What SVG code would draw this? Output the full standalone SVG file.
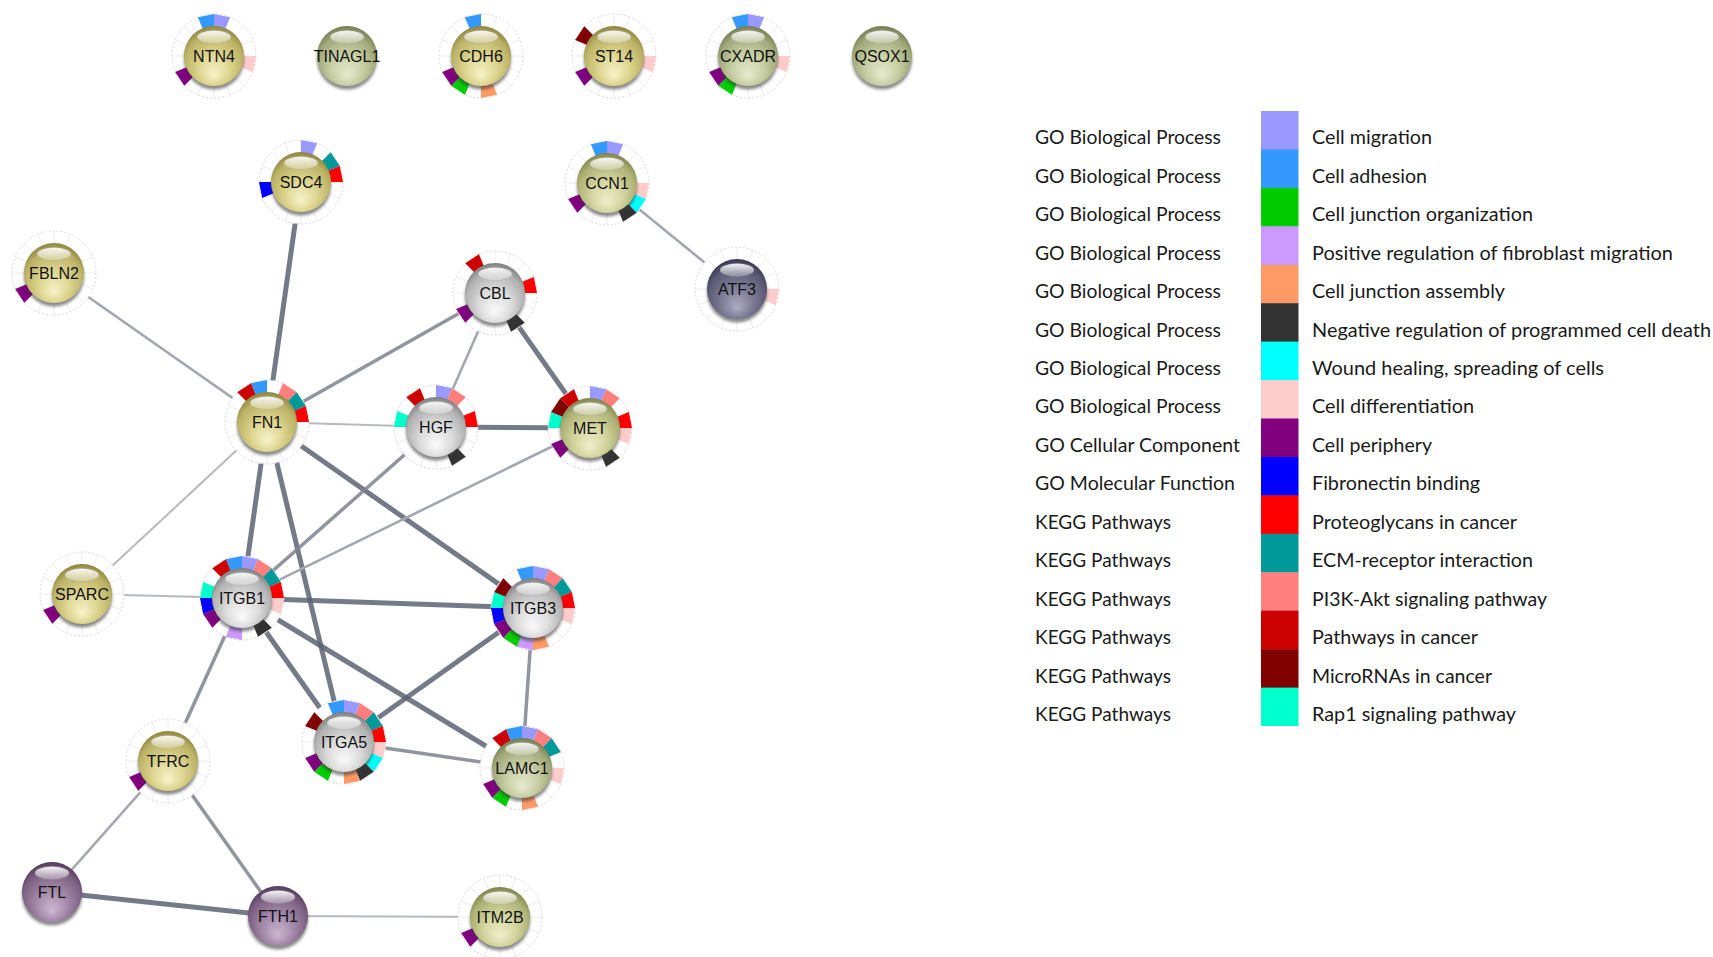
<svg xmlns="http://www.w3.org/2000/svg" xmlns:xlink="http://www.w3.org/1999/xlink" width="1713" height="957" viewBox="0 0 1713 957">
<style>
.e1{stroke:#5c6373;stroke-width:5;stroke-opacity:.85;fill:none}
.e2{stroke:#7d838f;stroke-width:3.5;stroke-opacity:.85;fill:none}
.e3{stroke:#a3a7ae;stroke-width:2.6;fill:none}
.e4{stroke:#b6b9be;stroke-width:2;fill:none}
.lbl{font-family:"Liberation Sans",Arial,sans-serif;font-size:16px;fill:#111;text-anchor:middle}
.lg{font-family:Lato,"Liberation Sans",sans-serif;font-size:19px;fill:#1a1a1a}
.rbg{fill:#fff}
.rout{fill:none;stroke:#d6d6d6;stroke-width:1;stroke-dasharray:2 2}
.sep{stroke:#ececec;stroke-width:1}
</style>
<defs>
<filter id="blur" x="-30%" y="-30%" width="160%" height="160%"><feGaussianBlur stdDeviation="1.6"/></filter>
<radialGradient id="gY" cx="0.5" cy="0.6" r="0.6" fx="0.5" fy="0.82">
<stop offset="0" stop-color="#f6f3c8"/><stop offset="0.45" stop-color="#dcd48e"/><stop offset="0.82" stop-color="#bbb265"/><stop offset="1" stop-color="#8c8540"/></radialGradient>
<radialGradient id="gG" cx="0.5" cy="0.6" r="0.6" fx="0.5" fy="0.82">
<stop offset="0" stop-color="#e6ebcf"/><stop offset="0.45" stop-color="#c7cea4"/><stop offset="0.82" stop-color="#a1a97a"/><stop offset="1" stop-color="#747c52"/></radialGradient>
<radialGradient id="gL" cx="0.5" cy="0.6" r="0.6" fx="0.5" fy="0.82">
<stop offset="0" stop-color="#eeefcc"/><stop offset="0.45" stop-color="#d3d59e"/><stop offset="0.82" stop-color="#adb073"/><stop offset="1" stop-color="#80834b"/></radialGradient>
<radialGradient id="gS" cx="0.5" cy="0.6" r="0.6" fx="0.5" fy="0.82">
<stop offset="0" stop-color="#fafafa"/><stop offset="0.45" stop-color="#dcdcdc"/><stop offset="0.82" stop-color="#b0b0b0"/><stop offset="1" stop-color="#7e7e7e"/></radialGradient>
<radialGradient id="gA" cx="0.5" cy="0.6" r="0.6" fx="0.5" fy="0.82">
<stop offset="0" stop-color="#adacc2"/><stop offset="0.45" stop-color="#7c7a94"/><stop offset="0.82" stop-color="#5a5872"/><stop offset="1" stop-color="#393750"/></radialGradient>
<radialGradient id="gP" cx="0.5" cy="0.6" r="0.6" fx="0.5" fy="0.82">
<stop offset="0" stop-color="#cdb8d2"/><stop offset="0.45" stop-color="#a287a8"/><stop offset="0.82" stop-color="#7c6083"/><stop offset="1" stop-color="#523a5a"/></radialGradient>
<linearGradient id="hl" x1="0" y1="0" x2="0" y2="1">
<stop offset="0" stop-color="#fff" stop-opacity="0.95"/><stop offset="1" stop-color="#fff" stop-opacity="0.25"/></linearGradient>
<g id="ring">
<circle class="rbg" r="42"/>
<path class="sep" d="M0,-29V-42M11.1,-26.79L16.07,-38.8M20.51,-20.51L29.7,-29.7M26.79,-11.1L38.8,-16.07M29,0H42M26.79,11.1L38.8,16.07M20.51,20.51L29.7,29.7M11.1,26.79L16.07,38.8M0,29V42M-11.1,26.79L-16.07,38.8M-20.51,20.51L-29.7,29.7M-26.79,11.1L-38.8,16.07M-29,0H-42M-26.79,-11.1L-38.8,-16.07M-20.51,-20.51L-29.7,-29.7M-11.1,-26.79L-16.07,-38.8"/>
<circle class="rout" r="42"/>
</g>
<path id="s0" fill="#3399ff" d="M-16.07,-38.8L0,-42L0,-29L-11.1,-26.79Z"/>
<path id="s1" fill="#9999ff" d="M0,-42L16.07,-38.8L11.1,-26.79L0,-29Z"/>
<path id="s2" fill="#ff7f7f" d="M16.07,-38.8L29.7,-29.7L20.51,-20.51L11.1,-26.79Z"/>
<path id="s3" fill="#009999" d="M29.7,-29.7L38.8,-16.07L26.79,-11.1L20.51,-20.51Z"/>
<path id="s4" fill="#ff0000" d="M38.8,-16.07L42,0L29,0L26.79,-11.1Z"/>
<path id="s5" fill="#ffcccc" d="M42,0L38.8,16.07L26.79,11.1L29,0Z"/>
<path id="s6" fill="#00ffff" d="M38.8,16.07L29.7,29.7L20.51,20.51L26.79,11.1Z"/>
<path id="s7" fill="#333333" d="M29.7,29.7L16.07,38.8L11.1,26.79L20.51,20.51Z"/>
<path id="s8" fill="#ff9966" d="M16.07,38.8L0,42L0,29L11.1,26.79Z"/>
<path id="s9" fill="#cc99ff" d="M0,42L-16.07,38.8L-11.1,26.79L0,29Z"/>
<path id="s10" fill="#00cc00" d="M-16.07,38.8L-29.7,29.7L-20.51,20.51L-11.1,26.79Z"/>
<path id="s11" fill="#800080" d="M-29.7,29.7L-38.8,16.07L-26.79,11.1L-20.51,20.51Z"/>
<path id="s12" fill="#0000ff" d="M-38.8,16.07L-42,0L-29,0L-26.79,11.1Z"/>
<path id="s13" fill="#00ffcc" d="M-42,0L-38.8,-16.07L-26.79,-11.1L-29,0Z"/>
<path id="s14" fill="#800000" d="M-38.8,-16.07L-29.7,-29.7L-20.51,-20.51L-26.79,-11.1Z"/>
<path id="s15" fill="#cc0000" d="M-29.7,-29.7L-16.07,-38.8L-11.1,-26.79L-20.51,-20.51Z"/>
<g id="shine">
<circle cy="3.5" r="30" fill="#3a3a3a" opacity="0.6" filter="url(#blur)"/>
</g>
<ellipse id="hi" cy="-19" rx="17" ry="6.5" fill="url(#hl)" stroke="#9a9a9a" stroke-opacity="0.35" stroke-width="0.8"/>
</defs>
<rect width="1713" height="957" fill="#fff"/>

<g id="connectors">
<line class="e1" x1="301" y1="182" x2="267" y2="422"/>
<line class="e3" x1="54" y1="273" x2="267" y2="422"/>
<line class="e2" x1="267" y1="422" x2="495" y2="293"/>
<line class="e4" x1="267" y1="422" x2="436" y2="427"/>
<line class="e1" x1="267" y1="422" x2="242" y2="598"/>
<line class="e1" x1="267" y1="422" x2="344" y2="742"/>
<line class="e1" x1="267" y1="422" x2="533" y2="608"/>
<line class="e4" x1="267" y1="422" x2="82" y2="594"/>
<line class="e3" x1="495" y1="293" x2="436" y2="427"/>
<line class="e1" x1="495" y1="293" x2="590" y2="428"/>
<line class="e1" x1="436" y1="427" x2="590" y2="428"/>
<line class="e2" x1="436" y1="427" x2="242" y2="598"/>
<line class="e3" x1="590" y1="428" x2="242" y2="598"/>
<line class="e3" x1="607" y1="183" x2="737" y2="289"/>
<line class="e4" x1="82" y1="594" x2="242" y2="598"/>
<line class="e1" x1="242" y1="598" x2="533" y2="608"/>
<line class="e1" x1="242" y1="598" x2="344" y2="742"/>
<line class="e1" x1="242" y1="598" x2="522" y2="768"/>
<line class="e2" x1="242" y1="598" x2="168" y2="761"/>
<line class="e1" x1="533" y1="608" x2="344" y2="742"/>
<line class="e2" x1="533" y1="608" x2="522" y2="768"/>
<line class="e2" x1="344" y1="742" x2="522" y2="768"/>
<line class="e3" x1="168" y1="761" x2="52" y2="892"/>
<line class="e2" x1="168" y1="761" x2="278" y2="916"/>
<line class="e1" x1="52" y1="892" x2="278" y2="916"/>
<line class="e4" x1="278" y1="916" x2="500" y2="917"/>
</g>

<g id="node-NTN4" transform="translate(214,56)"><use href="#ring"/><use href="#s0"/><use href="#s1"/><use href="#s5"/><use href="#s11"/><use href="#shine"/><circle r="30" fill="url(#gY)"/><use href="#hi"/><text class="lbl" y="6">NTN4</text></g>
<g id="node-TINAGL1" transform="translate(347,56)"><use href="#shine"/><circle r="30" fill="url(#gG)"/><use href="#hi"/><text class="lbl" y="6">TINAGL1</text></g>
<g id="node-CDH6" transform="translate(481,56)"><use href="#ring"/><use href="#s0"/><use href="#s8"/><use href="#s10"/><use href="#s11"/><use href="#shine"/><circle r="30" fill="url(#gY)"/><use href="#hi"/><text class="lbl" y="6">CDH6</text></g>
<g id="node-ST14" transform="translate(614,56)"><use href="#ring"/><use href="#s5"/><use href="#s11"/><use href="#s14"/><use href="#shine"/><circle r="30" fill="url(#gY)"/><use href="#hi"/><text class="lbl" y="6">ST14</text></g>
<g id="node-CXADR" transform="translate(748,56)"><use href="#ring"/><use href="#s0"/><use href="#s1"/><use href="#s5"/><use href="#s10"/><use href="#s11"/><use href="#shine"/><circle r="30" fill="url(#gG)"/><use href="#hi"/><text class="lbl" y="6">CXADR</text></g>
<g id="node-QSOX1" transform="translate(882,56)"><use href="#shine"/><circle r="30" fill="url(#gG)"/><use href="#hi"/><text class="lbl" y="6">QSOX1</text></g>
<g id="node-SDC4" transform="translate(301,182)"><use href="#ring"/><use href="#s1"/><use href="#s3"/><use href="#s4"/><use href="#s12"/><use href="#shine"/><circle r="30" fill="url(#gY)"/><use href="#hi"/><text class="lbl" y="6">SDC4</text></g>
<g id="node-CCN1" transform="translate(607,183)"><use href="#ring"/><use href="#s0"/><use href="#s1"/><use href="#s5"/><use href="#s6"/><use href="#s7"/><use href="#s11"/><use href="#shine"/><circle r="30" fill="url(#gL)"/><use href="#hi"/><text class="lbl" y="6">CCN1</text></g>
<g id="node-FBLN2" transform="translate(54,273)"><use href="#ring"/><use href="#s11"/><use href="#shine"/><circle r="30" fill="url(#gY)"/><use href="#hi"/><text class="lbl" y="6">FBLN2</text></g>
<g id="node-CBL" transform="translate(495,293)"><use href="#ring"/><use href="#s4"/><use href="#s7"/><use href="#s11"/><use href="#s15"/><use href="#shine"/><circle r="30" fill="url(#gS)"/><use href="#hi"/><text class="lbl" y="6">CBL</text></g>
<g id="node-ATF3" transform="translate(737,289)"><use href="#ring"/><use href="#s5"/><use href="#shine"/><circle r="30" fill="url(#gA)"/><use href="#hi"/><text class="lbl" y="6">ATF3</text></g>
<g id="node-FN1" transform="translate(267,422)"><use href="#ring"/><use href="#s0"/><use href="#s2"/><use href="#s3"/><use href="#s4"/><use href="#s15"/><use href="#shine"/><circle r="30" fill="url(#gY)"/><use href="#hi"/><text class="lbl" y="6">FN1</text></g>
<g id="node-HGF" transform="translate(436,427)"><use href="#ring"/><use href="#s1"/><use href="#s2"/><use href="#s4"/><use href="#s7"/><use href="#s13"/><use href="#s15"/><use href="#shine"/><circle r="30" fill="url(#gS)"/><use href="#hi"/><text class="lbl" y="6">HGF</text></g>
<g id="node-MET" transform="translate(590,428)"><use href="#ring"/><use href="#s1"/><use href="#s2"/><use href="#s4"/><use href="#s5"/><use href="#s7"/><use href="#s11"/><use href="#s13"/><use href="#s14"/><use href="#s15"/><use href="#shine"/><circle r="30" fill="url(#gL)"/><use href="#hi"/><text class="lbl" y="6">MET</text></g>
<g id="node-SPARC" transform="translate(82,594)"><use href="#ring"/><use href="#s11"/><use href="#shine"/><circle r="30" fill="url(#gY)"/><use href="#hi"/><text class="lbl" y="6">SPARC</text></g>
<g id="node-ITGB1" transform="translate(242,598)"><use href="#ring"/><use href="#s0"/><use href="#s1"/><use href="#s2"/><use href="#s3"/><use href="#s4"/><use href="#s5"/><use href="#s7"/><use href="#s9"/><use href="#s11"/><use href="#s12"/><use href="#s13"/><use href="#s15"/><use href="#shine"/><circle r="30" fill="url(#gS)"/><use href="#hi"/><text class="lbl" y="6">ITGB1</text></g>
<g id="node-ITGB3" transform="translate(533,608)"><use href="#ring"/><use href="#s0"/><use href="#s1"/><use href="#s2"/><use href="#s3"/><use href="#s4"/><use href="#s5"/><use href="#s8"/><use href="#s9"/><use href="#s10"/><use href="#s11"/><use href="#s12"/><use href="#s13"/><use href="#s14"/><use href="#shine"/><circle r="30" fill="url(#gS)"/><use href="#hi"/><text class="lbl" y="6">ITGB3</text></g>
<g id="node-ITGA5" transform="translate(344,742)"><use href="#ring"/><use href="#s0"/><use href="#s1"/><use href="#s2"/><use href="#s3"/><use href="#s4"/><use href="#s5"/><use href="#s6"/><use href="#s7"/><use href="#s8"/><use href="#s10"/><use href="#s11"/><use href="#s14"/><use href="#shine"/><circle r="30" fill="url(#gS)"/><use href="#hi"/><text class="lbl" y="6">ITGA5</text></g>
<g id="node-LAMC1" transform="translate(522,768)"><use href="#ring"/><use href="#s0"/><use href="#s1"/><use href="#s2"/><use href="#s3"/><use href="#s5"/><use href="#s8"/><use href="#s10"/><use href="#s11"/><use href="#s15"/><use href="#shine"/><circle r="30" fill="url(#gG)"/><use href="#hi"/><text class="lbl" y="6">LAMC1</text></g>
<g id="node-TFRC" transform="translate(168,761)"><use href="#ring"/><use href="#s11"/><use href="#shine"/><circle r="30" fill="url(#gY)"/><use href="#hi"/><text class="lbl" y="6">TFRC</text></g>
<g id="node-FTL" transform="translate(52,892)"><use href="#shine"/><circle r="30" fill="url(#gP)"/><use href="#hi"/><text class="lbl" y="6">FTL</text></g>
<g id="node-FTH1" transform="translate(278,916)"><use href="#shine"/><circle r="30" fill="url(#gP)"/><use href="#hi"/><text class="lbl" y="6">FTH1</text></g>
<g id="node-ITM2B" transform="translate(500,917)"><use href="#ring"/><use href="#s11"/><use href="#shine"/><circle r="30" fill="url(#gL)"/><use href="#hi"/><text class="lbl" y="6">ITM2B</text></g>

<g id="legend">
<rect x="1261" y="111" width="37.5" height="38.9" fill="#9999ff"/>
<rect x="1261" y="149.4" width="37.5" height="38.9" fill="#3399ff"/>
<rect x="1261" y="187.9" width="37.5" height="38.9" fill="#00cc00"/>
<rect x="1261" y="226.3" width="37.5" height="38.9" fill="#cc99ff"/>
<rect x="1261" y="264.8" width="37.5" height="38.9" fill="#ff9966"/>
<rect x="1261" y="303.2" width="37.5" height="38.9" fill="#333333"/>
<rect x="1261" y="341.6" width="37.5" height="38.9" fill="#00ffff"/>
<rect x="1261" y="380.1" width="37.5" height="38.9" fill="#ffcccc"/>
<rect x="1261" y="418.5" width="37.5" height="38.9" fill="#800080"/>
<rect x="1261" y="457" width="37.5" height="38.9" fill="#0000ff"/>
<rect x="1261" y="495.4" width="37.5" height="38.9" fill="#ff0000"/>
<rect x="1261" y="533.8" width="37.5" height="38.9" fill="#009999"/>
<rect x="1261" y="572.3" width="37.5" height="38.9" fill="#ff7f7f"/>
<rect x="1261" y="610.7" width="37.5" height="38.9" fill="#cc0000"/>
<rect x="1261" y="649.2" width="37.5" height="38.9" fill="#800000"/>
<rect x="1261" y="687.6" width="37.5" height="38.4" fill="#00ffcc"/>
<text class="lg" x="1035" y="144.3" textLength="186" lengthAdjust="spacingAndGlyphs">GO Biological Process</text>
<text class="lg" x="1035" y="182.7" textLength="186" lengthAdjust="spacingAndGlyphs">GO Biological Process</text>
<text class="lg" x="1035" y="221.2" textLength="186" lengthAdjust="spacingAndGlyphs">GO Biological Process</text>
<text class="lg" x="1035" y="259.6" textLength="186" lengthAdjust="spacingAndGlyphs">GO Biological Process</text>
<text class="lg" x="1035" y="298.1" textLength="186" lengthAdjust="spacingAndGlyphs">GO Biological Process</text>
<text class="lg" x="1035" y="336.5" textLength="186" lengthAdjust="spacingAndGlyphs">GO Biological Process</text>
<text class="lg" x="1035" y="374.9" textLength="186" lengthAdjust="spacingAndGlyphs">GO Biological Process</text>
<text class="lg" x="1035" y="413.4" textLength="186" lengthAdjust="spacingAndGlyphs">GO Biological Process</text>
<text class="lg" x="1035" y="451.8" textLength="205" lengthAdjust="spacingAndGlyphs">GO Cellular Component</text>
<text class="lg" x="1035" y="490.3" textLength="200" lengthAdjust="spacingAndGlyphs">GO Molecular Function</text>
<text class="lg" x="1035" y="528.7" textLength="136" lengthAdjust="spacingAndGlyphs">KEGG Pathways</text>
<text class="lg" x="1035" y="567.1" textLength="136" lengthAdjust="spacingAndGlyphs">KEGG Pathways</text>
<text class="lg" x="1035" y="605.6" textLength="136" lengthAdjust="spacingAndGlyphs">KEGG Pathways</text>
<text class="lg" x="1035" y="644" textLength="136" lengthAdjust="spacingAndGlyphs">KEGG Pathways</text>
<text class="lg" x="1035" y="682.5" textLength="136" lengthAdjust="spacingAndGlyphs">KEGG Pathways</text>
<text class="lg" x="1035" y="720.9" textLength="136" lengthAdjust="spacingAndGlyphs">KEGG Pathways</text>
<text class="lg" x="1312" y="144.3" textLength="120" lengthAdjust="spacingAndGlyphs">Cell migration</text>
<text class="lg" x="1312" y="182.7" textLength="115" lengthAdjust="spacingAndGlyphs">Cell adhesion</text>
<text class="lg" x="1312" y="221.2" textLength="221" lengthAdjust="spacingAndGlyphs">Cell junction organization</text>
<text class="lg" x="1312" y="259.6" textLength="361" lengthAdjust="spacingAndGlyphs">Positive regulation of fibroblast migration</text>
<text class="lg" x="1312" y="298.1" textLength="193" lengthAdjust="spacingAndGlyphs">Cell junction assembly</text>
<text class="lg" x="1312" y="336.5" textLength="399" lengthAdjust="spacingAndGlyphs">Negative regulation of programmed cell death</text>
<text class="lg" x="1312" y="374.9" textLength="292" lengthAdjust="spacingAndGlyphs">Wound healing, spreading of cells</text>
<text class="lg" x="1312" y="413.4" textLength="162" lengthAdjust="spacingAndGlyphs">Cell differentiation</text>
<text class="lg" x="1312" y="451.8" textLength="120" lengthAdjust="spacingAndGlyphs">Cell periphery</text>
<text class="lg" x="1312" y="490.3" textLength="168" lengthAdjust="spacingAndGlyphs">Fibronectin binding</text>
<text class="lg" x="1312" y="528.7" textLength="205" lengthAdjust="spacingAndGlyphs">Proteoglycans in cancer</text>
<text class="lg" x="1312" y="567.1" textLength="221" lengthAdjust="spacingAndGlyphs">ECM-receptor interaction</text>
<text class="lg" x="1312" y="605.6" textLength="235" lengthAdjust="spacingAndGlyphs">PI3K-Akt signaling pathway</text>
<text class="lg" x="1312" y="644" textLength="166" lengthAdjust="spacingAndGlyphs">Pathways in cancer</text>
<text class="lg" x="1312" y="682.5" textLength="180" lengthAdjust="spacingAndGlyphs">MicroRNAs in cancer</text>
<text class="lg" x="1312" y="720.9" textLength="204" lengthAdjust="spacingAndGlyphs">Rap1 signaling pathway</text>
</g>
</svg>
